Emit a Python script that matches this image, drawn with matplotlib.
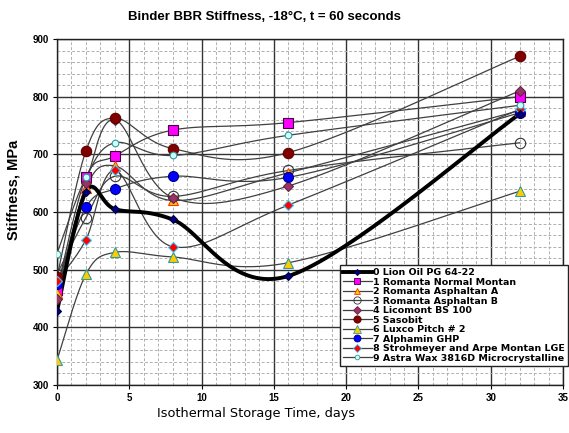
import numpy as np
import matplotlib
matplotlib.use("Agg")
import matplotlib.pyplot as plt
from matplotlib.lines import Line2D

days = [0, 2, 4, 8, 16, 32]

names = ["0 Lion Oil PG 64-22", "1 Romanta Normal Montan", "2 Romanta Asphaltan A",
         "3 Romanta Asphaltan B", "4 Licomont BS 100", "5 Sasobit", "6 Luxco Pitch # 2",
         "7 Alphamin GHP", "8 Strohmeyer and Arpe Montan LGE", "9 Astra Wax 3816D Microcrystalline"]

lion_oil = [428, 635, 605, 587, 489, 770]
romanta_normal = [465, 660, 697, 742, 755, 800]
asphaltan_a = [460, 642, 680, 620, 668, 776]
asphaltan_b = [492, 590, 662, 627, 672, 720]
licomont = [450, 650, 760, 625, 645, 810]
sasobit = [487, 706, 763, 710, 703, 870]
luxco = [343, 492, 530, 522, 512, 636]
alphamin = [475, 608, 640, 662, 660, 772]
strohmeyer = [480, 552, 672, 540, 612, 778]
astra = [528, 660, 720, 698, 733, 785]

series = [lion_oil, romanta_normal, asphaltan_a, asphaltan_b, licomont,
          sasobit, luxco, alphamin, strohmeyer, astra]

# marker styles: (marker, size, face, edge)
styles = [
    ("D", 4.5, "#000080", "#000040"),
    ("s", 6.8, "#FF00FF", "#400040"),
    ("^", 7.0, "#FFCC00", "#FF3300"),
    ("o", 7.5, "none", "#333333"),
    ("D", 5.5, "#993366", "#662244"),
    ("o", 7.5, "#800000", "#600000"),
    ("^", 7.8, "#FFCC00", "#339999"),
    ("o", 7.2, "#0000FF", "#000080"),
    ("D", 5.5, "#FF0000", "#33CCFF"),
    ("o", 4.8, "#CCFFFF", "#339999"),
]

W, H = 569, 433
fig = plt.figure(figsize=(W / 100, H / 100), dpi=100)
L, R, T, B = 57, 563, 39, 385
ax = fig.add_axes([L / W, 1 - B / H, (R - L) / W, (B - T) / H])
ax.set_xlim(0, 35)
ax.set_ylim(300, 900)

pxw, pxh = R - L, B - T
sx, sy = pxw / 35.0, pxh / 600.0


def smooth(xs, ys, n=40):
    P = np.column_stack([np.array(xs, float) * sx, np.array(ys, float) * sy])
    pts = []
    m = len(P)
    for i in range(m - 1):
        p0 = P[i - 1] if i > 0 else P[i]
        p1 = P[i]
        p2 = P[i + 1]
        p3 = P[i + 2] if i + 2 < m else P[i + 1]
        c1 = p1 + (p2 - p0) / 6.0
        c2 = p2 - (p3 - p1) / 6.0
        t = np.linspace(0, 1, n)[:, None]
        seg = ((1 - t) ** 3) * p1 + 3 * ((1 - t) ** 2) * t * c1 + 3 * (1 - t) * t ** 2 * c2 + t ** 3 * p2
        pts.append(seg if i == 0 else seg[1:])
    pts = np.vstack(pts)
    return pts[:, 0] / sx, pts[:, 1] / sy


ax.set_xticks(np.arange(0, 36, 5))
ax.set_yticks(np.arange(300, 901, 100))
ax.set_xticks(np.arange(0, 36, 1), minor=True)
ax.set_yticks(np.arange(300, 901, 20), minor=True)
ax.grid(which="minor", color="#b0b0b0", linestyle=(0, (3, 2)), linewidth=0.7)
ax.grid(which="major", color="#333333", linestyle="-", linewidth=1.0)
ax.set_axisbelow(True)
ax.tick_params(which="minor", length=0)
ax.tick_params(which="major", length=3, labelsize=7, pad=3)
for lab in ax.get_xticklabels() + ax.get_yticklabels():
    lab.set_fontweight("bold")
    lab.set_family("Liberation Sans")
for s in ax.spines.values():
    s.set_color("#222222")
    s.set_linewidth(1.0)

handles = []
order = list(range(1, 10)) + [0]
for i in order:
    ys = series[i]
    xs_s, ys_s = smooth(days, ys)
    lw = 2.8 if i == 0 else 0.9
    col = "#000000" if i == 0 else "#404040"
    ax.plot(xs_s, ys_s, color=col, lw=lw, zorder=3 if i else 4)
for i in order:
    mk, ms, fc, ec = styles[i]
    ax.plot(days, series[i], linestyle="none", marker=mk, markersize=ms,
            markerfacecolor=fc, markeredgecolor=ec, markeredgewidth=0.8, zorder=5)

for i in range(10):
    mk, ms, fc, ec = styles[i]
    lw = 2.8 if i == 0 else 0.9
    col = "#000000" if i == 0 else "#404040"
    handles.append(Line2D([], [], color=col, lw=lw, marker=mk, markersize=ms * 0.7,
                          markerfacecolor=fc, markeredgecolor=ec, markeredgewidth=0.6))

leg = ax.legend(handles, names, loc="upper left",
                bbox_to_anchor=((340 - L) / pxw, 1 - (265 - T) / pxh),
                prop={"family": "DejaVu Sans", "weight": "bold", "size": 6.8},
                frameon=True, fancybox=False, framealpha=1, edgecolor="#222222",
                labelspacing=0.05, borderpad=0.35, handlelength=3.0,
                handletextpad=0.1, borderaxespad=0)
leg.get_frame().set_linewidth(1.0)
leg.set_zorder(10)

fig.text(264 / W, 1 - 17 / H, "Binder BBR Stiffness, -18°C, t = 60 seconds",
         ha="center", va="center", fontsize=9.5, fontweight="bold", family="Liberation Sans")
fig.text(14 / W, 1 - 190 / H, "Stiffness, MPa", rotation=90, ha="center", va="center",
         fontsize=10.5, fontweight="bold", family="Liberation Sans")
fig.text(256 / W, 1 - 413 / H, "Isothermal Storage Time, days", ha="center", va="center",
         fontsize=9.3, family="DejaVu Sans")

fig.savefig("out.png", dpi=100, facecolor="white")
